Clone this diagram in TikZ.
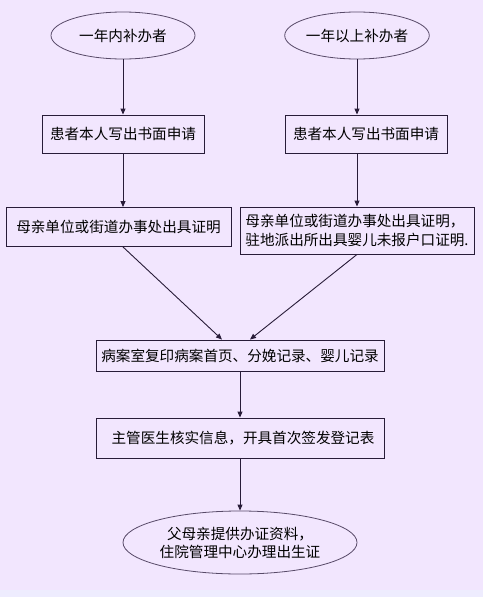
\documentclass[tikz,border=0pt]{standalone}
\usepackage{fontspec}
\newfontfamily\cjk{Noto Sans CJK SC}
\usepackage{xcolor}
\usepackage{tikz}
\usetikzlibrary{arrows.meta, positioning, calc, shapes.geometric}
\definecolor{bgpurple}{RGB}{242,230,254}
\definecolor{bgblue}{RGB}{238,236,254}
\definecolor{darkline}{RGB}{40,28,56}
\definecolor{ovalline}{RGB}{88,74,104}

\begin{document}
\begin{tikzpicture}[
					x=1pt, y=-1pt,
					box/.style={rectangle, draw=darkline, line width=0.9pt, inner sep=0pt, align=center, font=\cjk\fontsize{14.6}{19}\selectfont},
					oval/.style={ellipse, draw=ovalline, line width=0.8pt, inner sep=0pt, align=center, font=\cjk\fontsize{14.6}{19}\selectfont},
					arrow/.style={-{Triangle[length=6pt, width=5pt]}, line width=0.9pt, color=darkline}
					]
					% Background
					\fill[bgpurple] (0,0) rectangle (483,597);
					\fill[bgblue] (0,590) rectangle (483,597);
					\useasboundingbox (0,0) rectangle (483,597);
					
					% Define nodes
					\node[oval, minimum width=144pt, minimum height=47pt] (within) at (123,35.5) {一年内补办者};
					\node[oval, minimum width=144pt, minimum height=47pt] (beyond) at (357,35.5) {一年以上补办者};
					\node[box, minimum width=162pt, minimum height=38pt] (applyl) at (123,134) {患者本人写出书面申请};
					\node[box, minimum width=162pt, minimum height=38pt] (applyr) at (366,134) {患者本人写出书面申请};
					\node[box, minimum width=225pt, minimum height=39pt] (proofl) at (118.5,227) {母亲单位或街道办事处出具证明};
					\node[box, minimum width=234pt, minimum height=47pt, align=left] (proofr) at (357,230.5) {母亲单位或街道办事处出具证明，\\驻地派出所出具婴儿未报户口证明.};
					\node[box, minimum width=288pt, minimum height=31pt] (copy) at (240,355.5) {病案室复印病案首页、分娩记录、婴儿记录};
					\node[box, minimum width=288pt, minimum height=40pt] (check) at (240,438) {\hspace{6pt}主管医生核实信息，开具首次签发登记表};
					\node[oval, minimum width=234pt, minimum height=63pt, font=\cjk\fontsize{14.6}{18}\selectfont] (issue) at (240,542.5) {父母亲提供办证资料，\\住院管理中心办理出生证};
					
					% Arrows
					\draw[arrow] (within.south) -- (applyl.north);
					\draw[arrow] (beyond.south) -- (beyond.south |- applyr.north);
					\draw[arrow] (applyl.south) -- (applyl.south |- proofl.north);
					\draw[arrow] (beyond.south |- applyr.south) -- (beyond.south |- proofr.north);
					\draw[arrow] ([xshift=4.5pt]proofl.south) -- ([xshift=-18pt]copy.north);
					\draw[arrow] (proofr.south) -- ([xshift=10pt]copy.north);
					\draw[arrow] (copy.south) -- (check.north);
					\draw[arrow] (check.south) -- (issue.north);
				\end{tikzpicture}
\end{document}
